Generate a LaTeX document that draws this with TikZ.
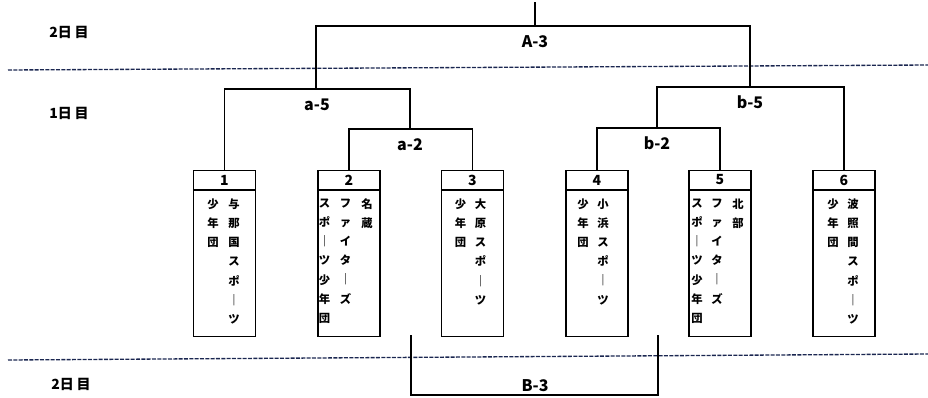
\documentclass[tikz,border=0pt]{standalone}
\usepackage{fontspec}
\setmainfont{Noto Sans CJK JP}
\definecolor{sepblue}{HTML}{1A2650}
\begin{document}
\begin{tikzpicture}[x=0.75pt,y=-0.75pt,line width=0.95pt,
    team/.style={draw,anchor=north,minimum width=46.5pt,minimum height=124.5pt,inner sep=0pt},
    num/.style={font=\fontsize{10.5}{10.5}\selectfont\bfseries},
    col/.style={anchor=north,align=center,inner sep=0pt,font=\fontsize{8.5}{14.4}\selectfont\bfseries},
    lbl/.style={font=\fontsize{12}{12}\selectfont\bfseries},
    day/.style={font=\fontsize{10.5}{11}\selectfont\bfseries},
    sep/.style={sepblue,line width=1pt,dash pattern=on 3pt off 1pt}]
  \useasboundingbox (0,0) rectangle (928,397);
  % days
  \draw[sep] (8,70) -- (928,65);
  \draw[sep] (8,360) -- (928,354);
  \node[day] (d1) at (69,32) {2日\hspace{2pt}目};
  \node[day] (d2) at (69,113) {1日\hspace{2pt}目};
  \node[day] (d3) at (71,384) {2日\hspace{2pt}目};
  % teams
  \foreach \i/\x in {1/224.5,2/349,3/472.5,4/597,5/720,6/844}{
    \node[team] (t\i) at (\x,170) {};
    \draw ([yshift=-15pt]t\i.north west) -- ([yshift=-15pt]t\i.north east);
    \node[num] at ([yshift=-7.5pt]t\i.north) {\i};
  }
  \node[col] at (234,198) {与\\那\\国\\ス\\ポ\\｜\\ツ};
  \node[col] at (213,198) {少\\年\\団};
  \node[col] at (367,198) {名\\蔵};
  \node[col] at (345.5,198) {フ\\ァ\\イ\\タ\\｜\\ズ};
  \node[col] at (324.5,198) {ス\\ポ\\｜\\ツ\\少\\年\\団};
  \node[col] at (480.5,198) {大\\原\\ス\\ポ\\｜\\ツ};
  \node[col] at (460.5,198) {少\\年\\団};
  \node[col] at (603,198) {小\\浜\\ス\\ポ\\｜\\ツ};
  \node[col] at (583,198) {少\\年\\団};
  \node[col] at (738,198) {北\\部};
  \node[col] at (717,198) {フ\\ァ\\イ\\タ\\｜\\ズ};
  \node[col] at (697,198) {ス\\ポ\\｜\\ツ\\少\\年\\団};
  \node[col] at (853,198) {波\\照\\間\\ス\\ポ\\｜\\ツ};
  \node[col] at (833,198) {少\\年\\団};
  % matches
  \coordinate (top) at (535,2);
  \coordinate (A3) at (535,26);
  \coordinate (a5) at (316,89);
  \coordinate (a2) at (410,129);
  \coordinate (b5) at (750,87);
  \coordinate (b2) at (657,128);
  \coordinate (Bl) at (411,335);
  \coordinate (Br) at (658,335);
  \coordinate (B3) at (535,395);
  \draw (t2.north) |- (a2) -| (t3.north);
  \draw (t1.north) |- (a5) -| (a2);
  \draw (t4.north) |- (b2) -| (t5.north);
  \draw (b2) |- (b5) -| (t6.north);
  \draw (a5) |- (A3) -| (b5);
  \draw (A3) -- (top);
  \draw (Bl) |- (B3) -| (Br);
  \node[lbl] at (535,42) {A-3};
  \node[lbl] at (317,105) {a-5};
  \node[lbl] at (410,145) {a-2};
  \node[lbl] at (750,102) {b-5};
  \node[lbl] at (657,143) {b-2};
  \node[lbl] at (535,386) {B-3};
\end{tikzpicture}
\end{document}
